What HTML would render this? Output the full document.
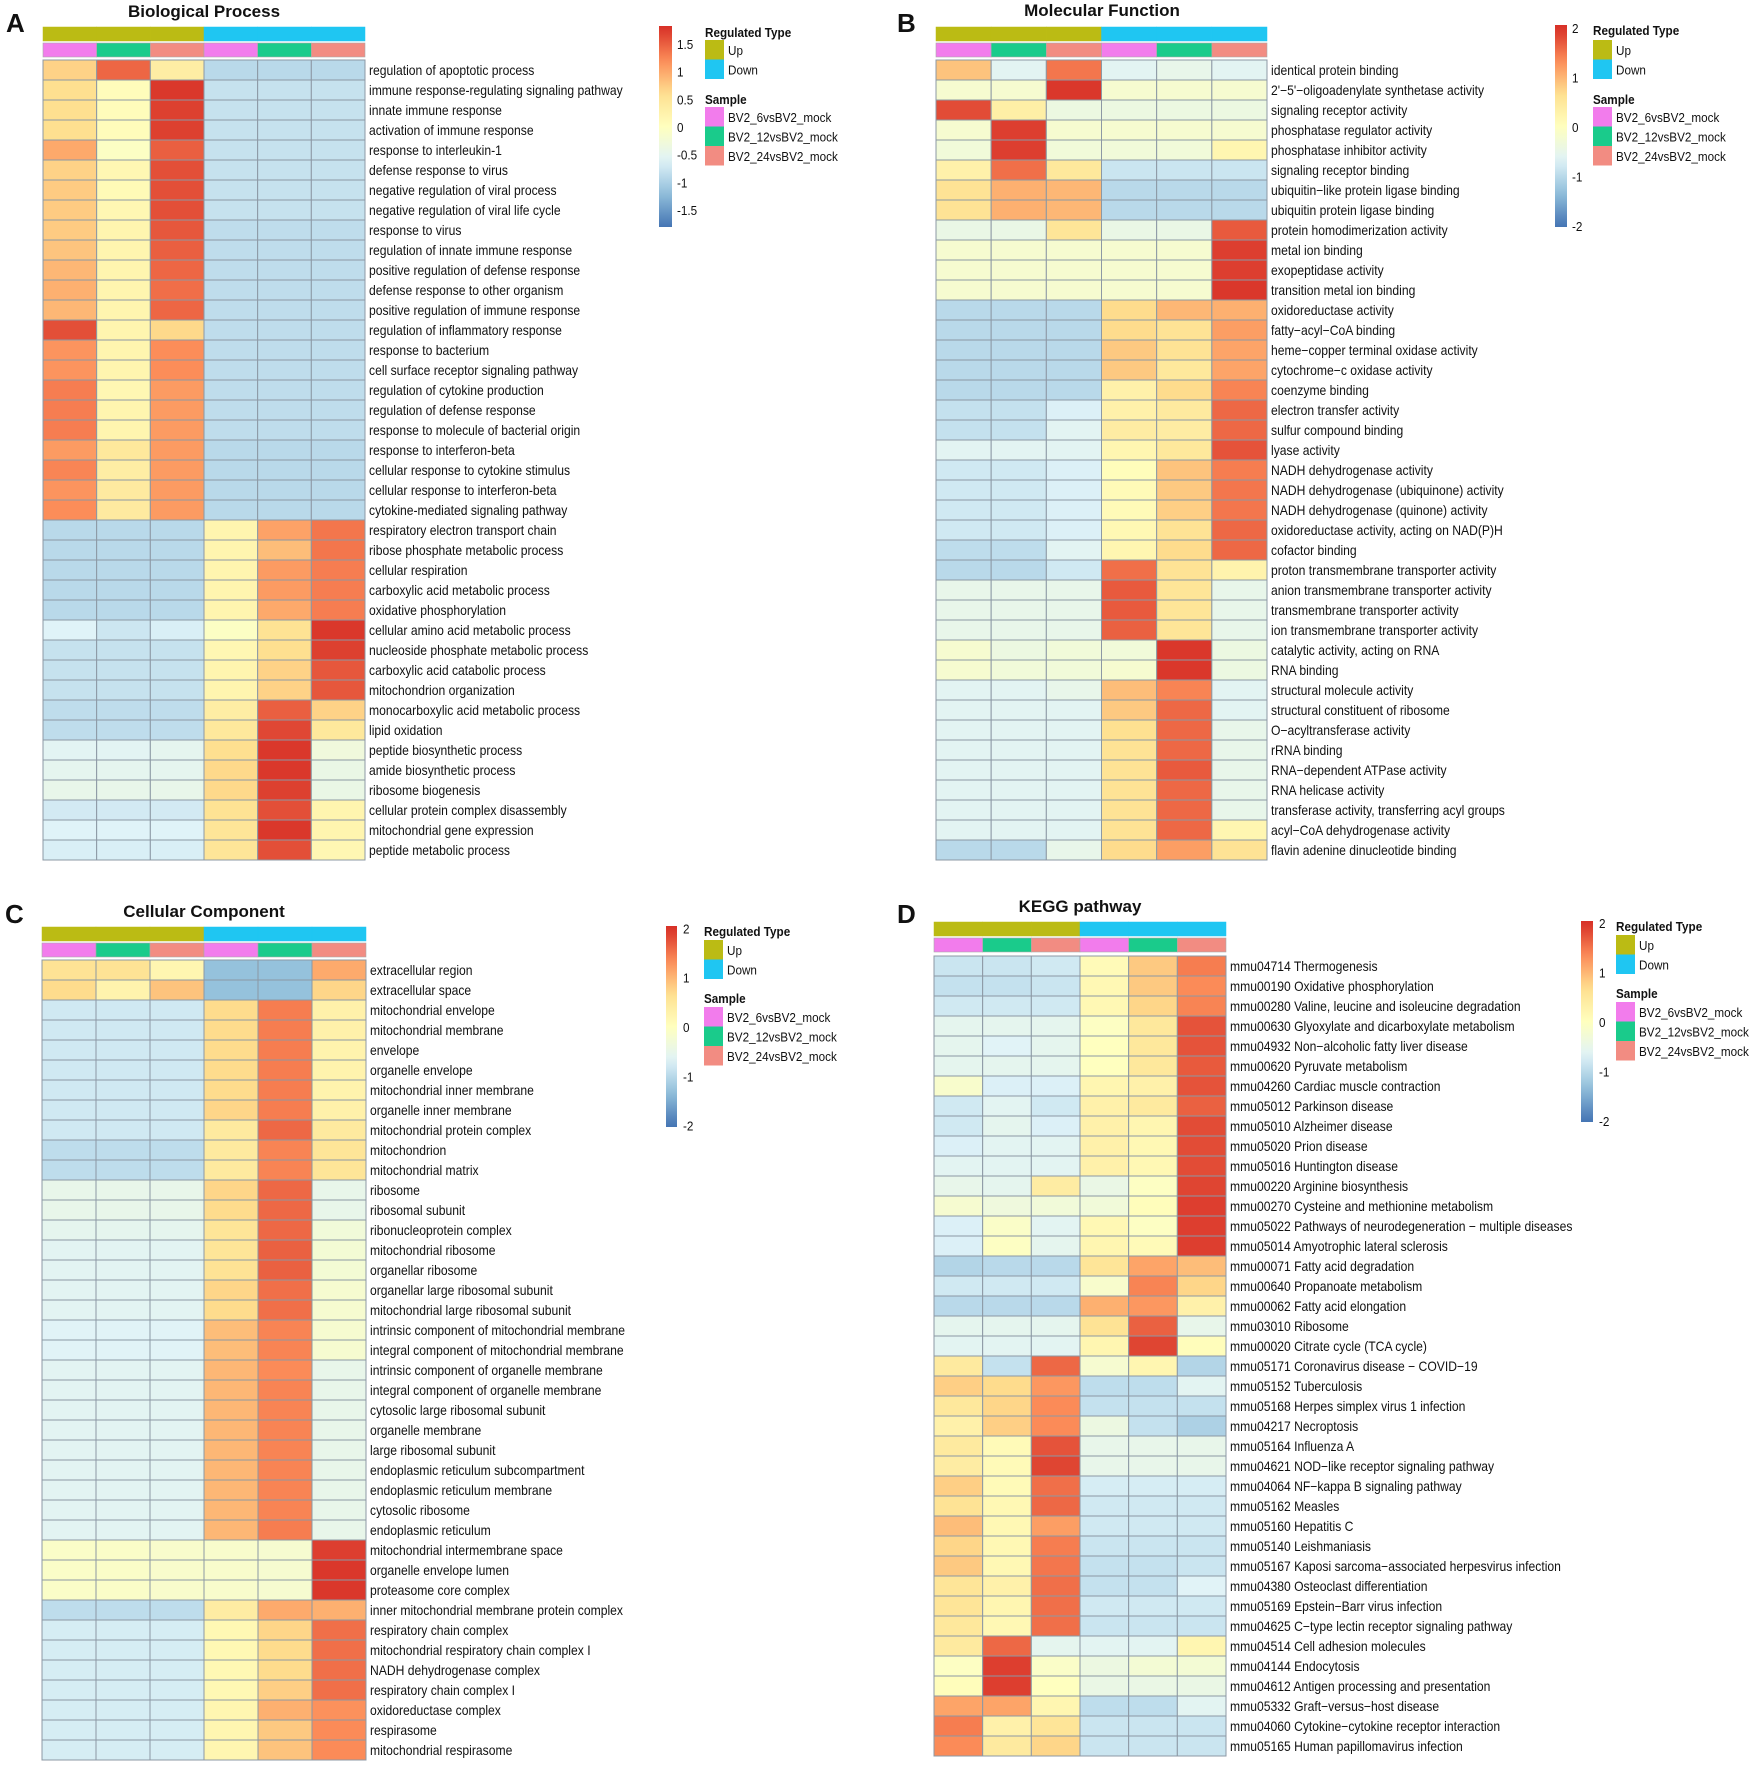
<!DOCTYPE html>
<html><head><meta charset="utf-8"><style>
html,body{margin:0;padding:0;background:#fff;}
svg{display:block;font-family:"Liberation Sans",Arial,sans-serif;}
</style></head><body>
<svg id="fig" width="1756" height="1772" viewBox="0 0 1756 1772" xmlns="http://www.w3.org/2000/svg"></svg>
<script>
const aLabels=["regulation of apoptotic process","immune response-regulating signaling pathway","innate immune response","activation of immune response","response to interleukin-1","defense response to virus","negative regulation of viral process","negative regulation of viral life cycle","response to virus","regulation of innate immune response","positive regulation of defense response","defense response to other organism","positive regulation of immune response","regulation of inflammatory response","response to bacterium","cell surface receptor signaling pathway","regulation of cytokine production","regulation of defense response","response to molecule of bacterial origin","response to interferon-beta","cellular response to cytokine stimulus","cellular response to interferon-beta","cytokine-mediated signaling pathway","respiratory electron transport chain","ribose phosphate metabolic process","cellular respiration","carboxylic acid metabolic process","oxidative phosphorylation","cellular amino acid metabolic process","nucleoside phosphate metabolic process","carboxylic acid catabolic process","mitochondrion organization","monocarboxylic acid metabolic process","lipid oxidation","peptide biosynthetic process","amide biosynthetic process","ribosome biogenesis","cellular protein complex disassembly","mitochondrial gene expression","peptide metabolic process"];
const aValues=[
[0.7,1.45,0.35,-0.9,-0.9,-0.9],[0.6,0.05,1.75,-0.8,-0.8,-0.8],[0.6,0.05,1.7,-0.8,-0.8,-0.8],[0.6,0.05,1.7,-0.8,-0.8,-0.8],
[1.0,-0.05,1.5,-0.8,-0.8,-0.8],[0.7,0.15,1.6,-0.8,-0.8,-0.8],[0.75,0.1,1.6,-0.8,-0.8,-0.8],[0.75,0.15,1.6,-0.8,-0.8,-0.8],
[0.75,0.2,1.55,-0.85,-0.85,-0.85],[0.8,0.2,1.5,-0.85,-0.85,-0.85],[0.9,0.2,1.45,-0.85,-0.85,-0.85],[0.95,0.2,1.4,-0.85,-0.85,-0.85],
[0.9,0.2,1.45,-0.85,-0.85,-0.85],[1.6,0.2,0.65,-0.85,-0.85,-0.85],[1.15,0.2,1.2,-0.85,-0.85,-0.85],[1.15,0.2,1.2,-0.85,-0.85,-0.85],
[1.3,0.15,1.1,-0.85,-0.85,-0.85],[1.3,0.2,1.1,-0.85,-0.85,-0.85],[1.3,0.2,1.1,-0.85,-0.85,-0.85],[1.1,0.45,1.1,-0.9,-0.9,-0.9],
[1.25,0.35,1.1,-0.9,-0.9,-0.9],[1.15,0.4,1.1,-0.9,-0.9,-0.9],[1.2,0.4,1.1,-0.9,-0.9,-0.9],
[-0.9,-0.9,-0.9,0.2,1.05,1.35],[-0.9,-0.9,-0.9,0.2,0.85,1.35],[-0.9,-0.9,-0.9,0.2,1.1,1.3],[-0.9,-0.9,-0.9,0.2,1.1,1.3],[-0.9,-0.9,-0.9,0.2,1.0,1.3],
[-0.6,-0.75,-0.65,-0.05,0.55,1.75],[-0.8,-0.8,-0.8,0.15,0.6,1.7],[-0.8,-0.8,-0.8,0.2,0.7,1.55],[-0.8,-0.8,-0.8,0.2,0.7,1.55],
[-0.85,-0.85,-0.85,0.35,1.5,0.7],[-0.85,-0.85,-0.85,0.45,1.65,0.45],[-0.55,-0.55,-0.5,0.6,1.75,-0.3],[-0.5,-0.5,-0.5,0.65,1.75,-0.4],
[-0.45,-0.45,-0.45,0.65,1.7,-0.4],[-0.7,-0.7,-0.7,0.55,1.6,0.2],[-0.6,-0.6,-0.6,0.5,1.75,0.2],[-0.65,-0.65,-0.65,0.5,1.6,0.15]];
const aTicks=[1.5,1,0.5,0,-0.5,-1,-1.5];

const bLabels=["identical protein binding","2'\u22125'\u2212oligoadenylate synthetase activity","signaling receptor activity","phosphatase regulator activity","phosphatase inhibitor activity","signaling receptor binding","ubiquitin\u2212like protein ligase binding","ubiquitin protein ligase binding","protein homodimerization activity","metal ion binding","exopeptidase activity","transition metal ion binding","oxidoreductase activity","fatty\u2212acyl\u2212CoA binding","heme\u2212copper terminal oxidase activity","cytochrome\u2212c oxidase activity","coenzyme binding","electron transfer activity","sulfur compound binding","lyase activity","NADH dehydrogenase activity","NADH dehydrogenase (ubiquinone) activity","NADH dehydrogenase (quinone) activity","oxidoreductase activity, acting on NAD(P)H","cofactor binding","proton transmembrane transporter activity","anion transmembrane transporter activity","transmembrane transporter activity","ion transmembrane transporter activity","catalytic activity, acting on RNA","RNA binding","structural molecule activity","structural constituent of ribosome","O\u2212acyltransferase activity","rRNA binding","RNA\u2212dependent ATPase activity","RNA helicase activity","transferase activity, transferring acyl groups","acyl\u2212CoA dehydrogenase activity","flavin adenine dinucleotide binding"];
const bValues=[
[0.9,-0.6,1.5,-0.6,-0.5,-0.6],[-0.2,-0.2,1.95,-0.2,-0.2,-0.2],[1.8,0.35,-0.4,-0.4,-0.4,-0.4],[-0.2,1.9,-0.2,-0.2,-0.2,-0.2],
[-0.3,1.9,-0.3,-0.3,-0.3,0.2],[0.3,1.55,0.5,-0.85,-0.85,-0.85],[0.6,1.05,1.0,-1.0,-1.0,-1.0],[0.6,1.05,1.0,-1.0,-1.0,-1.0],
[-0.45,-0.45,0.55,-0.45,-0.45,1.7],[-0.2,-0.2,-0.2,-0.2,-0.2,1.9],[-0.2,-0.2,-0.2,-0.2,-0.2,1.9],[-0.2,-0.2,-0.2,-0.2,-0.2,1.95],
[-1.0,-1.0,-1.0,0.7,1.0,1.05],[-1.0,-1.0,-1.0,0.7,0.6,1.2],[-1.0,-1.0,-1.0,0.85,0.6,1.15],[-1.0,-1.0,-1.0,0.85,0.5,1.15],
[-1.0,-1.0,-1.0,0.3,0.7,1.4],[-0.9,-0.9,-0.7,0.3,0.45,1.6],[-0.9,-0.9,-0.6,0.4,0.4,1.6],[-0.6,-0.6,-0.6,0.2,0.5,1.75],
[-0.8,-0.8,-0.7,0.05,0.9,1.45],[-0.8,-0.8,-0.7,0.1,0.85,1.5],[-0.8,-0.8,-0.7,0.1,0.8,1.5],[-0.8,-0.8,-0.7,0.15,0.6,1.6],
[-0.95,-0.95,-0.6,0.2,0.7,1.6],[-1.0,-1.0,-0.8,1.55,0.6,0.25],[-0.5,-0.5,-0.5,1.7,0.55,-0.5],[-0.5,-0.5,-0.5,1.7,0.55,-0.5],
[-0.5,-0.5,-0.5,1.65,0.55,-0.5],[-0.2,-0.4,-0.3,-0.3,1.95,-0.4],[-0.2,-0.3,-0.3,-0.2,1.95,-0.4],[-0.6,-0.6,-0.5,0.95,1.4,-0.6],
[-0.6,-0.6,-0.6,0.85,1.6,-0.6],[-0.6,-0.6,-0.6,0.65,1.6,-0.5],[-0.6,-0.6,-0.6,0.6,1.6,-0.5],[-0.6,-0.6,-0.6,0.6,1.7,-0.5],
[-0.6,-0.6,-0.6,0.6,1.6,-0.5],[-0.6,-0.6,-0.6,0.6,1.6,-0.5],[-0.6,-0.6,-0.6,0.6,1.6,0.2],[-1.0,-1.0,-0.5,0.7,1.2,0.6]];
const bTicks=[2,1,0,-1,-2];

const cLabels=["extracellular region","extracellular space","mitochondrial envelope","mitochondrial membrane","envelope","organelle envelope","mitochondrial inner membrane","organelle inner membrane","mitochondrial protein complex","mitochondrion","mitochondrial matrix","ribosome","ribosomal subunit","ribonucleoprotein complex","mitochondrial ribosome","organellar ribosome","organellar large ribosomal subunit","mitochondrial large ribosomal subunit","intrinsic component of mitochondrial membrane","integral component of mitochondrial membrane","intrinsic component of organelle membrane","integral component of organelle membrane","cytosolic large ribosomal subunit","organelle membrane","large ribosomal subunit","endoplasmic reticulum subcompartment","endoplasmic reticulum membrane","cytosolic ribosome","endoplasmic reticulum","mitochondrial intermembrane space","organelle envelope lumen","proteasome core complex","inner mitochondrial membrane protein complex","respiratory chain complex","mitochondrial respiratory chain complex I","NADH dehydrogenase complex","respiratory chain complex I","oxidoreductase complex","respirasome","mitochondrial respirasome"];
const cValues=[
[0.6,0.6,0.2,-1.3,-1.3,1.1],[0.7,0.25,0.9,-1.3,-1.3,0.75],
[-0.8,-0.8,-0.8,0.7,1.45,0.3],[-0.8,-0.8,-0.8,0.7,1.45,0.3],[-0.8,-0.8,-0.8,0.7,1.45,0.25],[-0.8,-0.8,-0.8,0.7,1.45,0.25],
[-0.8,-0.8,-0.8,0.7,1.45,0.25],[-0.8,-0.8,-0.8,0.75,1.45,0.3],[-0.8,-0.8,-0.8,0.45,1.6,0.45],[-0.95,-0.95,-0.95,0.45,1.4,0.55],
[-0.95,-0.95,-0.95,0.45,1.4,0.55],[-0.5,-0.5,-0.5,0.75,1.6,-0.5],[-0.5,-0.5,-0.5,0.7,1.6,-0.5],[-0.55,-0.55,-0.55,0.55,1.6,-0.3],
[-0.6,-0.6,-0.6,0.55,1.65,-0.25],[-0.6,-0.6,-0.6,0.6,1.65,-0.25],[-0.6,-0.6,-0.6,0.75,1.55,-0.2],[-0.6,-0.6,-0.6,0.7,1.55,-0.2],
[-0.65,-0.65,-0.65,0.95,1.4,-0.2],[-0.65,-0.65,-0.65,0.95,1.4,-0.2],[-0.6,-0.6,-0.6,1.0,1.35,-0.5],[-0.6,-0.6,-0.6,1.0,1.4,-0.5],
[-0.6,-0.6,-0.6,1.0,1.4,-0.5],[-0.6,-0.6,-0.6,1.0,1.4,-0.5],[-0.6,-0.6,-0.6,1.0,1.4,-0.5],[-0.6,-0.6,-0.6,1.0,1.4,-0.5],
[-0.6,-0.6,-0.6,1.0,1.4,-0.5],[-0.6,-0.6,-0.6,1.0,1.4,-0.5],[-0.6,-0.6,-0.6,1.0,1.45,-0.5],
[-0.1,-0.1,-0.15,-0.15,-0.2,1.9],[-0.1,-0.1,-0.15,-0.15,-0.2,1.95],[-0.1,-0.1,-0.15,-0.15,-0.2,1.95],
[-0.95,-0.95,-0.95,0.4,1.1,1.05],[-0.75,-0.75,-0.75,0.15,0.75,1.55],[-0.75,-0.75,-0.75,0.15,0.7,1.55],[-0.75,-0.75,-0.75,0.15,0.7,1.55],
[-0.75,-0.75,-0.75,0.15,0.8,1.55],[-0.75,-0.75,-0.75,0.2,1.05,1.3],[-0.75,-0.75,-0.75,0.2,0.85,1.35],[-0.75,-0.75,-0.75,0.2,0.9,1.35]];
const cTicks=[2,1,0,-1,-2];

const dLabels=["mmu04714 Thermogenesis","mmu00190 Oxidative phosphorylation","mmu00280 Valine, leucine and isoleucine degradation","mmu00630 Glyoxylate and dicarboxylate metabolism","mmu04932 Non\u2212alcoholic fatty liver disease","mmu00620 Pyruvate metabolism","mmu04260 Cardiac muscle contraction","mmu05012 Parkinson disease","mmu05010 Alzheimer disease","mmu05020 Prion disease","mmu05016 Huntington disease","mmu00220 Arginine biosynthesis","mmu00270 Cysteine and methionine metabolism","mmu05022 Pathways of neurodegeneration \u2212 multiple diseases","mmu05014 Amyotrophic lateral sclerosis","mmu00071 Fatty acid degradation","mmu00640 Propanoate metabolism","mmu00062 Fatty acid elongation","mmu03010 Ribosome","mmu00020 Citrate cycle (TCA cycle)","mmu05171 Coronavirus disease \u2212 COVID\u221219","mmu05152 Tuberculosis","mmu05168 Herpes simplex virus 1 infection","mmu04217 Necroptosis","mmu05164 Influenza A","mmu04621 NOD\u2212like receptor signaling pathway","mmu04064 NF\u2212kappa B signaling pathway","mmu05162 Measles","mmu05160 Hepatitis C","mmu05140 Leishmaniasis","mmu05167 Kaposi sarcoma\u2212associated herpesvirus infection","mmu04380 Osteoclast differentiation","mmu05169 Epstein\u2212Barr virus infection","mmu04625 C\u2212type lectin receptor signaling pathway","mmu04514 Cell adhesion molecules","mmu04144 Endocytosis","mmu04612 Antigen processing and presentation","mmu05332 Graft\u2212versus\u2212host disease","mmu04060 Cytokine\u2212cytokine receptor interaction","mmu05165 Human papillomavirus infection"];
const dValues=[
[-0.85,-0.85,-0.8,0.1,0.85,1.45],[-0.9,-0.9,-0.85,0.15,0.85,1.35],[-0.8,-0.8,-0.8,0.15,0.75,1.4],[-0.55,-0.55,-0.55,-0.05,0.5,1.75],
[-0.55,-0.65,-0.55,0.0,0.5,1.75],[-0.55,-0.55,-0.55,0.0,0.5,1.7],[-0.15,-0.7,-0.7,0.2,0.3,1.75],[-0.8,-0.6,-0.8,0.3,0.45,1.65],
[-0.8,-0.55,-0.7,0.3,0.2,1.8],[-0.7,-0.6,-0.6,0.3,0.15,1.8],[-0.6,-0.6,-0.6,0.3,0.15,1.8],[-0.5,-0.55,0.4,-0.45,-0.05,1.85],
[-0.2,-0.35,-0.3,-0.3,0.05,1.9],[-0.7,-0.1,-0.6,0.15,-0.05,1.9],[-0.7,-0.05,-0.55,0.2,0.1,1.9],[-1.05,-1.0,-1.0,0.55,1.15,0.95],
[-0.8,-0.8,-0.8,-0.15,1.4,0.75],[-1.0,-1.0,-1.0,1.05,1.25,0.3],[-0.55,-0.55,-0.55,0.6,1.65,-0.5],[-0.6,-0.6,-0.6,0.2,1.85,0.05],
[0.45,-0.9,1.6,-0.2,0.2,-1.05],[0.8,0.7,1.25,-0.95,-0.95,-0.6],[0.5,0.75,1.35,-0.9,-0.9,-0.9],[0.3,0.8,1.35,-0.4,-0.9,-1.1],
[0.45,0.1,1.75,-0.5,-0.5,-0.5],[0.4,0.1,1.85,-0.5,-0.5,-0.5],[0.8,0.1,1.55,-0.75,-0.75,-0.75],[0.6,0.15,1.6,-0.8,-0.8,-0.8],
[0.95,0.15,1.2,-0.8,-0.8,-0.8],[0.75,0.15,1.45,-0.85,-0.85,-0.85],[0.85,0.15,1.5,-0.9,-0.9,-0.85],[0.55,0.3,1.55,-0.9,-0.9,-0.65],
[0.55,0.2,1.55,-0.8,-0.8,-0.8],[0.5,0.15,1.55,-0.85,-0.85,-0.85],[0.45,1.6,-0.55,-0.6,-0.6,0.2],[-0.05,1.9,-0.1,-0.4,-0.25,-0.25],
[0.05,1.9,0.0,-0.45,-0.45,-0.45],[1.15,1.15,0.2,-0.95,-0.95,-0.6],[1.45,0.3,0.55,-0.85,-0.85,-0.85],[1.35,0.45,0.75,-0.85,-0.85,-0.85]];
const dTicks=[2,1,0,-1,-2];

const regTypes=["Up","Up","Up","Down","Down","Down"];
const samples=["BV2_6vsBV2_mock","BV2_12vsBV2_mock","BV2_24vsBV2_mock","BV2_6vsBV2_mock","BV2_12vsBV2_mock","BV2_24vsBV2_mock"];
const sampleNames=["BV2_6vsBV2_mock","BV2_12vsBV2_mock","BV2_24vsBV2_mock"];
const regColors={Up:"#BBBB14",Down:"#1FC6F2"};
const sampleColors={"BV2_6vsBV2_mock":"#F27CEC","BV2_12vsBV2_mock":"#1ACB8B","BV2_24vsBV2_mock":"#F28C82"};
const pal=["#4575B4","#91BFDB","#E0F3F8","#FFFFBF","#FEE090","#FC8D59","#D73027"];

const NS="http://www.w3.org/2000/svg";
const svg=document.getElementById('fig');
function hex(c){return [parseInt(c.slice(1,3),16),parseInt(c.slice(3,5),16),parseInt(c.slice(5,7),16)];}
function colorFor(v,R){let t=(v+R)/(2*R);t=Math.max(0,Math.min(1,t));const p=t*(pal.length-1);const i=Math.min(pal.length-2,Math.floor(p));const f=p-i;const a=hex(pal[i]),b=hex(pal[i+1]);return "rgb("+a.map((x,k)=>Math.round(x+(b[k]-x)*f)).join(",")+")";}
function mk(tag,attrs,parent){const e=document.createElementNS(NS,tag);for(const k in attrs)e.setAttribute(k,attrs[k]);(parent||svg).appendChild(e);return e;}
function txt(s,x,y,size,parent,weight,anchor){const t=mk('text',{x:x,y:y,'font-size':size,fill:'#111'},parent);if(weight)t.setAttribute('font-weight',weight);if(anchor)t.setAttribute('text-anchor',anchor);t.textContent=s;return t;}
function ctxt(s,x,y,size,parent,weight){const t=mk('text',{x:0,y:0,'font-size':size,fill:'#111',transform:'translate('+x+','+y+') scale(0.9,1)'},parent);if(weight)t.setAttribute('font-weight',weight);t.textContent=s;return t;}

const panels=[
{id:'a',letter:'A',title:'Biological Process',labels:aLabels,values:aValues,ticks:aTicks,R:1.8,lx0:6,ly:32,tx:204,ty:17,hx:43,hw:322,a1y:27,a2y:43,hy:60,rh:20,lx:369,cbx:659,cbw:13,cby0:26,cby1:227,zero:127,unit:55.4,tlx:677,lgx:705,lgt:32,upY:40,stY:99,sY:107},
{id:'b',letter:'B',title:'Molecular Function',labels:bLabels,values:bValues,ticks:bTicks,R:2,lx0:897,ly:32,tx:1102,ty:16,hx:936,hw:331,a1y:27,a2y:43,hy:60,rh:20,lx:1271,cbx:1555,cbw:12,cby0:25,cby1:227,zero:127,unit:49.5,tlx:1572,lgx:1593,lgt:30,upY:40,stY:99,sY:107},
{id:'c',letter:'C',title:'Cellular Component',labels:cLabels,values:cValues,ticks:cTicks,R:2,lx0:5,ly:923,tx:204,ty:917,hx:42,hw:324,a1y:927,a2y:943,hy:960,rh:20,lx:370,cbx:666,cbw:11,cby0:926,cby1:1127,zero:1027,unit:49.3,tlx:683,lgx:704,lgt:931,upY:940,stY:998,sY:1007},
{id:'d',letter:'D',title:'KEGG pathway',labels:dLabels,values:dValues,ticks:dTicks,R:2,lx0:897,ly:923,tx:1080,ty:912,hx:934,hw:292,a1y:922,a2y:938,hy:956,rh:20,lx:1230,cbx:1581,cbw:12,cby0:921,cby1:1122,zero:1022,unit:49.5,tlx:1599,lgx:1616,lgt:926,upY:935,stY:993,sY:1002}
];

const defs=mk('defs',{});
panels.forEach(p=>{
  const g=mk('g',{});
  
  
  const L=txt(p.letter,p.lx0,p.ly,26,g,'bold');
  
  
  const T=txt(p.title,p.tx,p.ty,17,g,'bold','middle');
  
  
  const cw=p.hw/6;
  regTypes.forEach((r,j)=>{
    const a=mk('rect',{x:p.hx+j*cw,y:p.a1y,width:cw,height:14,fill:regColors[r],stroke:regColors[r],'stroke-width':0.5},g);
    
    
  });
  samples.forEach((s,j)=>{
    const a=mk('rect',{x:p.hx+j*cw,y:p.a2y,width:cw,height:14,fill:sampleColors[s],stroke:'#aaa','stroke-width':0.6},g);
    
    
  });
  p.values.forEach((row,i)=>{
    row.forEach((v,j)=>{
      const c=mk('rect',{x:p.hx+j*cw,y:p.hy+i*p.rh,width:cw,height:p.rh,fill:colorFor(v,p.R),stroke:'#8c98a4','stroke-width':1},g);
      
      
    });
  });
  p.labels.forEach((s,i)=>{
    const t=ctxt(s,p.lx,p.hy+i*p.rh+p.rh/2+5,13.5,g);
    
    
  });
  const vTop=(p.zero-p.cby0)/p.unit, vBot=(p.zero-p.cby1)/p.unit;
  const gr=mk('linearGradient',{id:'grad-'+p.id,x1:0,y1:0,x2:0,y2:1},defs);
  for(let k=0;k<=20;k++){const v=vTop+(vBot-vTop)*k/20;mk('stop',{offset:(k/20),'stop-color':colorFor(v,p.R)},gr);}
  const cb=mk('rect',{x:p.cbx,y:p.cby0,width:p.cbw,height:p.cby1-p.cby0,fill:'url(#grad-'+p.id+')'},g);
  
  
  p.ticks.forEach(v=>{
    const y=p.zero-v*p.unit;
    const t=ctxt(String(v),p.tlx,y+5,13,g);
    
    
  });
  const lt=ctxt('Regulated Type',p.lgx,p.lgt+5,13,g,'bold');
  
  
  ['Up','Down'].forEach((r,k)=>{
    const b=mk('rect',{x:p.lgx,y:p.upY+k*19.5,width:19,height:19.5,fill:regColors[r]},g);
    
    
    const t=ctxt(r,p.lgx+23,p.upY+k*19.5+15,13,g);
    
    
  });
  const st=ctxt('Sample',p.lgx,p.stY+5,13,g,'bold');
  
  
  sampleNames.forEach((s,k)=>{
    const b=mk('rect',{x:p.lgx,y:p.sY+k*19.5,width:19,height:19.5,fill:sampleColors[s]},g);
    
    
    const t=ctxt(s,p.lgx+23,p.sY+k*19.5+15,13,g);
    
    
  });
});
</script>
</body></html>
